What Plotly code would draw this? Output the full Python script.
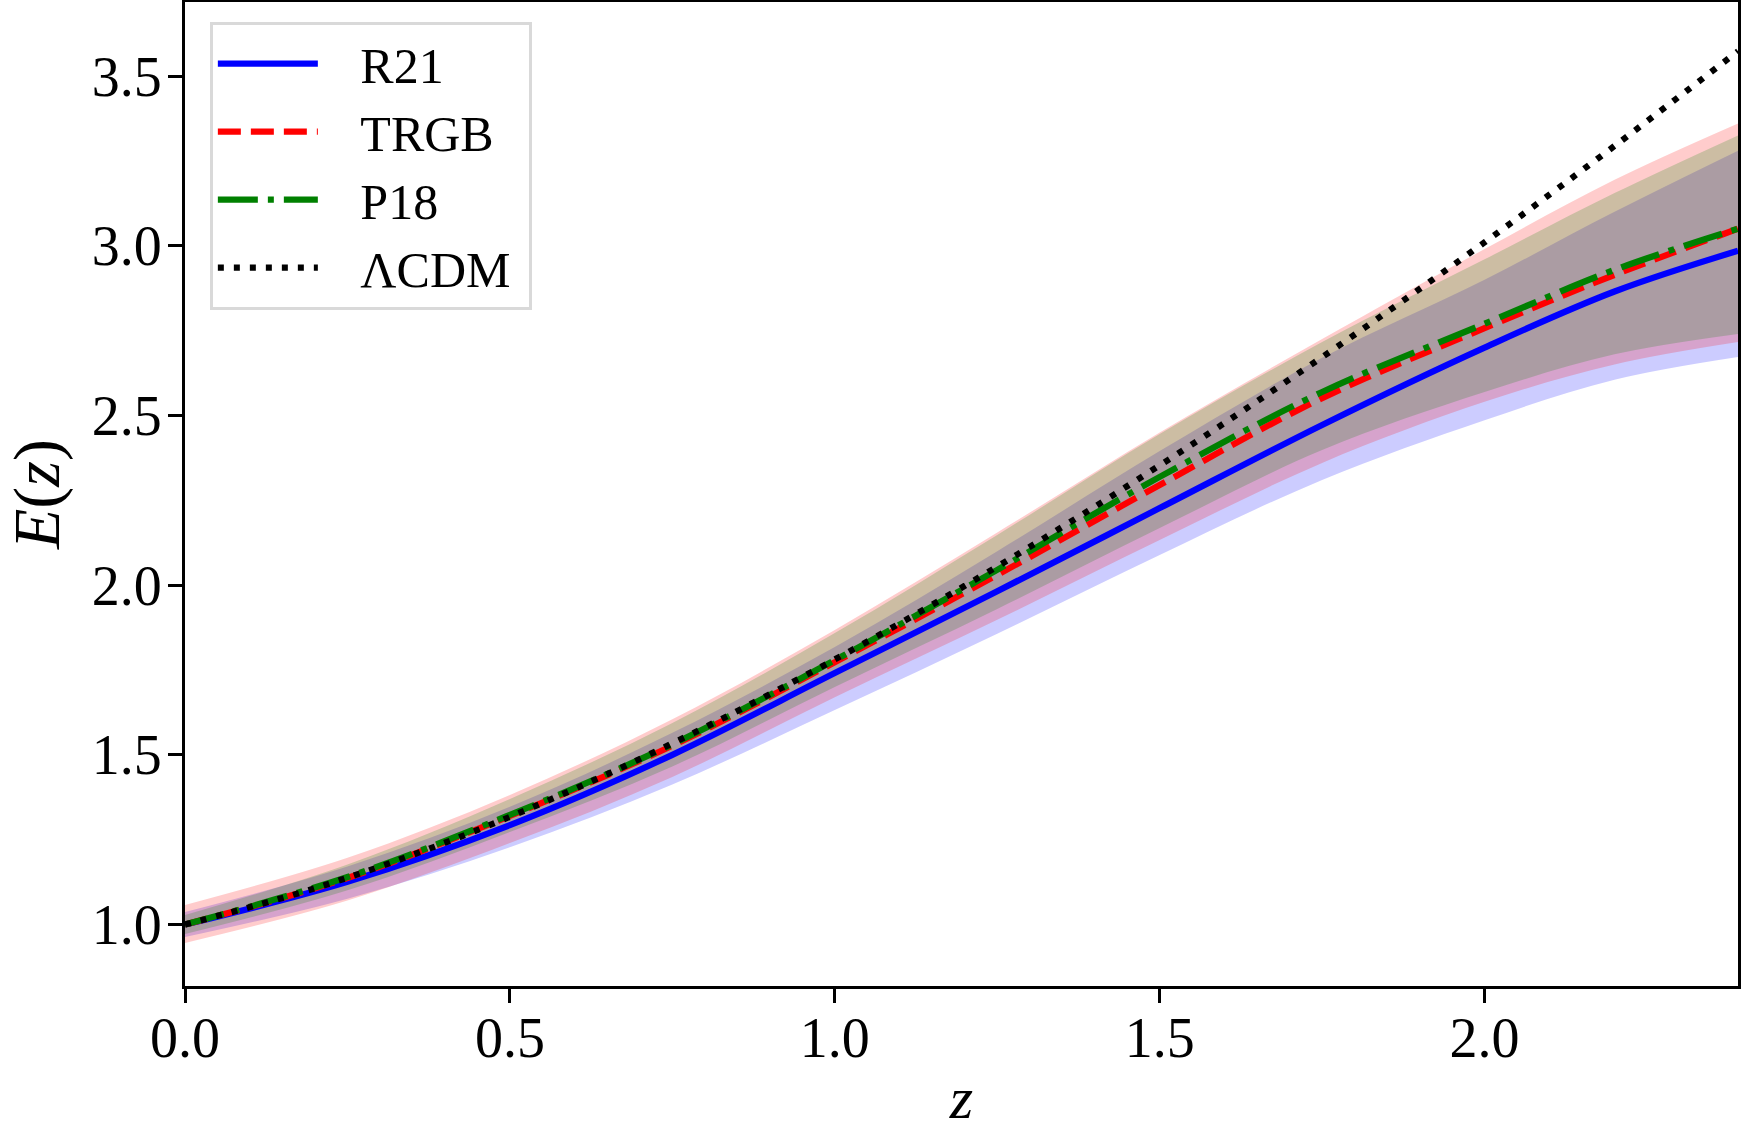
import plotly.graph_objects as go

# redshift sample points
z = [0.0, 0.25, 0.5, 0.75, 1.0, 1.25, 1.5, 1.75, 2.0, 2.2, 2.39]

# central reconstructions
e_r21 = [1.000, 1.126, 1.293, 1.500, 1.741, 1.982, 2.227, 2.472, 2.700, 2.865, 2.985]
e_trgb = [1.000, 1.137, 1.320, 1.527, 1.773, 2.030, 2.295, 2.551, 2.757, 2.914, 3.050]
e_p18 = [1.000, 1.140, 1.323, 1.531, 1.779, 2.045, 2.319, 2.569, 2.770, 2.929, 3.050]

# 1-sigma bands
r21_lo = [0.963, 1.076, 1.228, 1.413, 1.632, 1.857, 2.089, 2.310, 2.486, 2.605, 2.672]
r21_hi = [1.037, 1.171, 1.347, 1.565, 1.818, 2.100, 2.395, 2.670, 2.900, 3.100, 3.280]
trgb_lo = [0.946, 1.071, 1.240, 1.435, 1.670, 1.898, 2.133, 2.360, 2.540, 2.650, 2.716]
trgb_hi = [1.058, 1.197, 1.382, 1.605, 1.868, 2.155, 2.450, 2.725, 2.990, 3.194, 3.360]
p18_lo = [0.972, 1.101, 1.273, 1.466, 1.700, 1.930, 2.168, 2.398, 2.569, 2.680, 2.740]
p18_hi = [1.028, 1.177, 1.370, 1.594, 1.859, 2.148, 2.445, 2.716, 2.960, 3.155, 3.325]

# LCDM curve
z_lcdm = [0.0, 0.2, 0.4, 0.6, 0.8, 1.0, 1.2, 1.4, 1.6, 1.8, 2.0, 2.2, 2.39]
e_lcdm = [1.000, 1.107, 1.241, 1.400, 1.581, 1.781, 1.998, 2.231, 2.478, 2.738, 3.010, 3.294, 3.573]

x_ticks = [0.0, 0.5, 1.0, 1.5, 2.0]
y_ticks = [1.0, 1.5, 2.0, 2.5, 3.0, 3.5]

FONT = "Liberation Serif"
FS = 56
LW = 6.25
PAD = "\u00a0\u00a0\u00a0"
TAIL = "\u00a0"

fig = go.Figure()

bands = [
    (r21_lo, r21_hi, "rgba(0,0,255,0.2)"),
    (trgb_lo, trgb_hi, "rgba(255,0,0,0.2)"),
    (p18_lo, p18_hi, "rgba(0,128,0,0.2)"),
]
for lo, hi, col in bands:
    fig.add_trace(go.Scatter(x=z, y=lo, mode="lines", line=dict(width=0, shape="spline"),
                             showlegend=False, hoverinfo="skip"))
    fig.add_trace(go.Scatter(x=z, y=hi, mode="lines", line=dict(width=0, shape="spline"),
                             fill="tonexty", fillcolor=col, showlegend=False, hoverinfo="skip"))

fig.add_trace(go.Scatter(x=z, y=e_r21, mode="lines", name=PAD + "R21" + TAIL,
                         line=dict(color="#0000ff", width=LW, shape="spline")))
fig.add_trace(go.Scatter(x=z, y=e_trgb, mode="lines", name=PAD + "TRGB" + TAIL,
                         line=dict(color="#ff0000", width=LW, shape="spline", dash="23px,10px")))
fig.add_trace(go.Scatter(x=z, y=e_p18, mode="lines", name=PAD + "P18" + TAIL,
                         line=dict(color="#008000", width=LW, shape="spline", dash="40px,10px,6px,10px")))
fig.add_trace(go.Scatter(x=z_lcdm, y=e_lcdm, mode="lines", name=PAD + "ΛCDM" + TAIL,
                         line=dict(color="#000000", width=LW, shape="spline", dash="6px,10px")))

axis_common = dict(
    showgrid=False, zeroline=False, showline=True, linecolor="black", linewidth=3,
    mirror=True, ticks="outside", ticklen=14, tickwidth=3, tickcolor="black",
    tickfont=dict(family=FONT, size=FS, color="black"), automargin=False,
)

fig.update_xaxes(range=[0, 2.39], tickvals=x_ticks, tickformat=".1f", ticklabelstandoff=-13,
                 title=dict(text="<i>z</i>", font=dict(family=FONT, size=60, color="black"), standoff=40),
                 **axis_common)
fig.update_yaxes(range=[0.819, 3.718], tickvals=y_ticks, tickformat=".1f", ticklabelstandoff=-5,
                 title=dict(text="<i>E</i>(<i>z</i>)", font=dict(family=FONT, size=66, color="black"), standoff=49),
                 **axis_common)

fig.update_layout(
    width=1742, height=1131,
    margin=dict(l=185, r=4, t=2, b=145, autoexpand=False),
    plot_bgcolor="white", paper_bgcolor="white",
    legend=dict(x=0.016, y=0.98, xanchor="left", yanchor="top", traceorder="normal",
                bgcolor="white", bordercolor="#d9d9d9", borderwidth=3,
                font=dict(family=FONT, size=50, color="black"),
                itemwidth=100, tracegroupgap=0),
    showlegend=True,
)

fig.write_html("out.html", config={"displayModeBar": False},
               post_script="document.body.style.margin='0';document.body.style.overflow='hidden';")
